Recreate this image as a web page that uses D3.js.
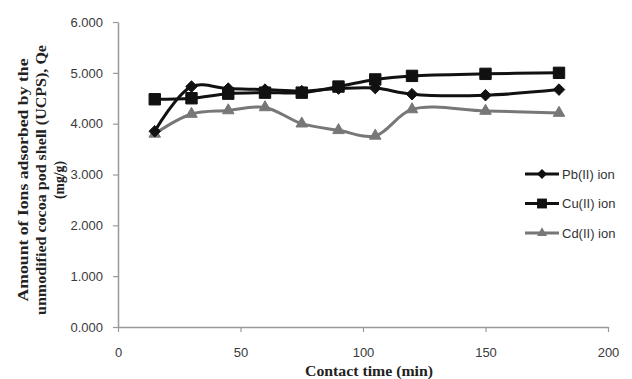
<!DOCTYPE html>
<html>
<head>
<meta charset="utf-8">
<script src="https://cdn.jsdelivr.net/npm/d3@7"></script>
<style>
  body { margin: 0; background: #fff; }
  svg { display: block; }
</style>
</head>
<body>
<div id="chart"></div>
<script>
const times = [15, 30, 45, 60, 75, 90, 105, 120, 150, 180];
const pbValues = [3.85, 4.73, 4.69, 4.67, 4.64, 4.69, 4.70, 4.58, 4.56, 4.67];
const cuValues = [4.48, 4.50, 4.59, 4.61, 4.61, 4.73, 4.87, 4.94, 4.98, 5.00];
const cdValues = [3.80, 4.19, 4.26, 4.32, 4.00, 3.87, 3.76, 4.28, 4.25, 4.21];
const xTicks = [0, 50, 100, 150, 200];
const yTicks = [0, 1, 2, 3, 4, 5, 6];
const seriesNames = ['Pb(II) ion', 'Cu(II) ion', 'Cd(II) ion'];

const width = 632, height = 379;
const margin = { top: 20, right: 24, bottom: 52, left: 118 };

const svg = d3.select('#chart').append('svg')
    .attr('width', width)
    .attr('height', height);

const xScale = d3.scaleLinear().domain([0, 200]).range([margin.left, 608]);
const yScale = d3.scaleLinear().domain([0, 6]).range([327, margin.top + 2]);

// axes
const yAxis = svg.append('g')
    .attr('transform', `translate(${margin.left},0)`)
    .call(d3.axisLeft(yScale).tickValues(yTicks).tickFormat(d3.format('.3f')).tickSize(5).tickSizeOuter(0));
const xAxis = svg.append('g')
    .attr('transform', `translate(0,${yScale(0)})`)
    .call(d3.axisBottom(xScale).tickValues(xTicks).tickSize(5).tickSizeOuter(0));

[xAxis, yAxis].forEach(ax => {
    ax.select('.domain').attr('stroke', '#999').attr('stroke-width', 1.5);
    ax.selectAll('.tick line').attr('stroke', '#999').attr('stroke-width', 1.2);
    ax.selectAll('.tick text')
        .attr('fill', '#3a3a3a')
        .style('font-family', 'Liberation Sans, Arial, sans-serif')
        .style('font-size', '13px');
});
yAxis.selectAll('.tick text').attr('x', -15);
xAxis.selectAll('.tick text').attr('y', 21);

// axis titles
const yTitle = svg.append('text')
    .attr('transform', 'translate(0,180) rotate(-90)')
    .attr('text-anchor', 'middle')
    .style('font-family', 'Liberation Serif, Times New Roman, serif')
    .style('font-weight', 'bold')
    .style('font-size', '14px')
    .attr('fill', '#222');
const yTitleLines = [
    { text: 'Amount of Ions adsorbed by the', len: 243 },
    { text: 'unmodified cocoa pod shell (UCPS), Qe', len: 270 },
    { text: '(mg/g)', len: 38 }
];
yTitleLines.forEach((l, i) => {
    yTitle.append('tspan')
        .attr('x', 0)
        .attr('y', 28 + i * 18)
        .attr('textLength', l.len)
        .attr('lengthAdjust', 'spacingAndGlyphs')
        .text(l.text);
});

svg.append('text')
    .attr('x', 369)
    .attr('y', 376)
    .attr('text-anchor', 'middle')
    .attr('textLength', 128)
    .attr('lengthAdjust', 'spacingAndGlyphs')
    .style('font-family', 'Liberation Serif, Times New Roman, serif')
    .style('font-weight', 'bold')
    .style('font-size', '14px')
    .attr('fill', '#222')
    .text('Contact time (min)');

// series
const series = [
    { name: seriesNames[0], values: pbValues, color: '#111', symbol: d3.symbolDiamond2, size: 85 },
    { name: seriesNames[1], values: cuValues, color: '#111', symbol: d3.symbolSquare2, size: 165 },
    { name: seriesNames[2], values: cdValues, color: '#777', symbol: d3.symbolTriangle2, size: 95 }
];

const line = d3.line()
    .x((d, i) => xScale(times[i]))
    .y(d => yScale(d))
    .curve(d3.curveCatmullRom.alpha(0.5));

// draw Cd first, then Pb, then Cu on top
[2, 0, 1].forEach(k => {
    const s = series[k];
    svg.append('path')
        .datum(s.values)
        .attr('fill', 'none')
        .attr('stroke', s.color)
        .attr('stroke-width', 3)
        .attr('d', line);
    svg.append('g').selectAll('path')
        .data(s.values)
        .join('path')
        .attr('transform', (d, i) => `translate(${xScale(times[i])},${yScale(d)})`)
        .attr('d', d3.symbol(s.symbol, s.size))
        .attr('fill', s.color)
        .attr('stroke', s.color)
        .attr('stroke-width', 1);
});

// legend
const legend = svg.append('g');
series.forEach((s, i) => {
    const y = 174 + i * 29.5;
    legend.append('line')
        .attr('x1', 525).attr('x2', 559)
        .attr('y1', y).attr('y2', y)
        .attr('stroke', s.color)
        .attr('stroke-width', 3);
    legend.append('path')
        .attr('transform', `translate(542,${y})`)
        .attr('d', d3.symbol(s.symbol, s.size * 0.75))
        .attr('fill', s.color);
    legend.append('text')
        .attr('x', 562)
        .attr('y', y + 4.5)
        .style('font-family', 'Liberation Sans, Arial, sans-serif')
        .style('font-size', '13px')
        .attr('fill', '#333')
        .text(s.name);
});
</script>
</body>
</html>
